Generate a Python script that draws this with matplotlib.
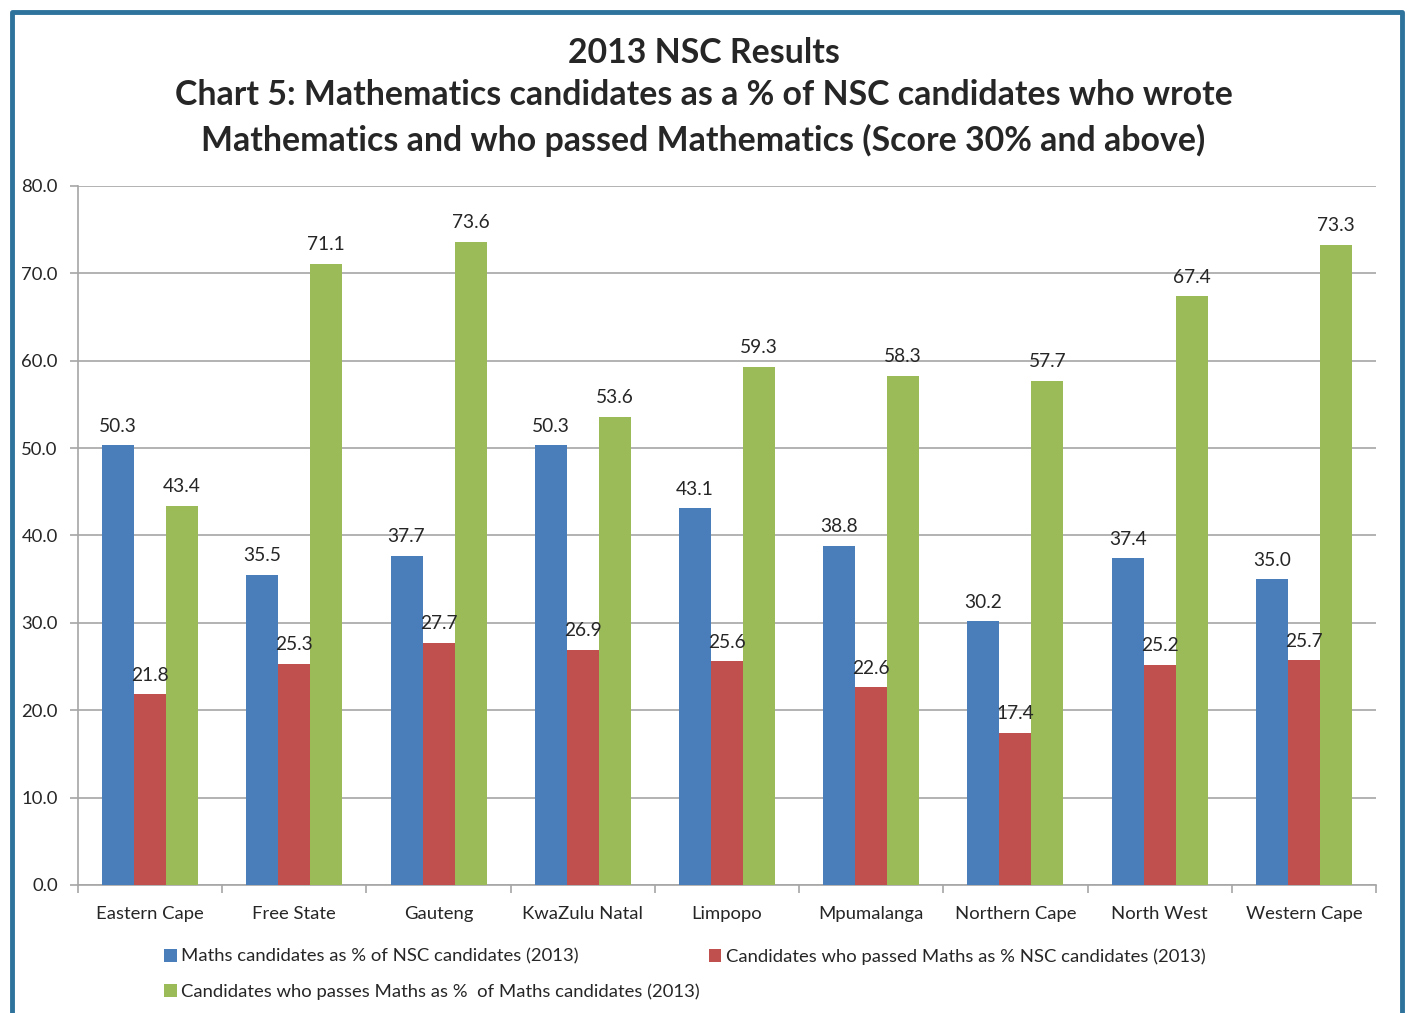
import numpy as np
import matplotlib
matplotlib.use("Agg")
import matplotlib.pyplot as plt

plt.rcParams['font.family'] = ['Lato', 'DejaVu Sans']

# data
provinces = ["Eastern Cape", "Free State", "Gauteng", "KwaZulu Natal", "Limpopo",
             "Mpumalanga", "Northern Cape", "North West", "Western Cape"]
maths_pct = [50.3, 35.5, 37.7, 50.3, 43.1, 38.8, 30.2, 37.4, 35.0]
passed_pct_nsc = [21.8, 25.3, 27.7, 26.9, 25.6, 22.6, 17.4, 25.2, 25.7]
passed_pct_maths = [43.4, 71.1, 73.6, 53.6, 59.3, 58.3, 57.7, 67.4, 73.3]
series_names = ["Maths candidates as % of NSC candidates (2013)",
                "Candidates who passed Maths as % NSC candidates (2013)",
                "Candidates who passes Maths as %  of Maths candidates (2013)"]
yticks = [0, 10, 20, 30, 40, 50, 60, 70, 80]

colors = ["#4a7ebb", "#c0504d", "#9bbb59"]
text_col = "#262626"
grid_col = "#a6a6a6"
fs = 13.3

fig = plt.figure(figsize=(14.07, 10.13), dpi=100)
ax = fig.add_axes([0.0554, 0.1264, 0.9226, 0.69])

x = np.arange(len(provinces))
w = 0.222
handles = []
for i, vals in enumerate([maths_pct, passed_pct_nsc, passed_pct_maths]):
    bars = ax.bar(x + (i - 1) * w, vals, width=w, color=colors[i], zorder=3,
                  label=series_names[i])
    handles.append(bars)
    for b, v in zip(bars, vals):
        ax.text(b.get_x() + b.get_width() / 2, v + 1.2, "%.1f" % v,
                ha='center', va='bottom', fontsize=13.8, color=text_col, zorder=4)

ax.set_xlim(-0.5, len(provinces) - 0.5)
ax.set_ylim(0, 80)
ax.set_yticks(yticks)
ax.set_yticklabels(["%.1f" % t for t in yticks], fontsize=fs, color=text_col)
ax.yaxis.grid(True, color=grid_col, linewidth=1.2, zorder=0)
ax.set_axisbelow(True)

ax.set_xticks(x)
ax.set_xticklabels(provinces, fontsize=fs, color=text_col)
ax.tick_params(axis='x', length=0, pad=15)
ax.set_xticks(np.arange(-0.5, len(provinces)), minor=True)
ax.tick_params(axis='x', which='minor', length=6, color=grid_col, width=1.2)
ax.tick_params(axis='y', length=6, color=grid_col, width=1.2, pad=8.6)

for s in ['top', 'right']:
    ax.spines[s].set_visible(False)
for s in ['left', 'bottom']:
    ax.spines[s].set_color(grid_col)
    ax.spines[s].set_linewidth(1.2)

title_lines = ["2013 NSC Results",
               "Chart 5: Mathematics candidates as a % of NSC candidates who wrote",
               "Mathematics and who passed Mathematics (Score 30% and above)"]
for ty, line in zip([0.948, 0.906, 0.861], title_lines):
    fig.text(0.5, ty, line, ha='center', va='center',
             fontsize=24.4, fontweight='bold', color=text_col)

leg = fig.legend([handles[0], handles[2], handles[1]],
                 [series_names[0], series_names[2], series_names[1]],
                 ncol=2, loc='upper left', bbox_to_anchor=(0.1165, 0.064),
                 frameon=False, fontsize=fs, handlelength=0.7, handleheight=0.7,
                 handletextpad=0.25, columnspacing=0.45, labelspacing=1.0,
                 borderaxespad=0, borderpad=0)
for t in leg.get_texts():
    t.set_color(text_col)

# outer border, open at the bottom
bc = "#2e739c"
fig.add_artist(plt.Line2D([0.0085, 0.0085, 0.9965, 0.9965], [0.0, 0.988, 0.988, 0.0],
                          transform=fig.transFigure, color=bc, linewidth=3.5))

fig.savefig("out.png", dpi=100)
